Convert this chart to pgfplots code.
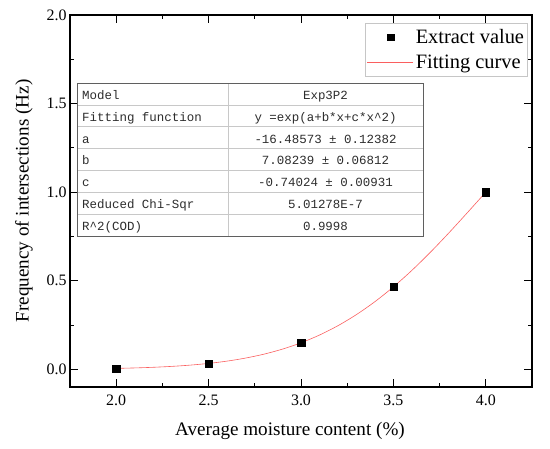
\documentclass[border=0pt]{standalone}
\usepackage{fontspec}
\setmainfont{Liberation Serif}
\newfontfamily\tablefont{Liberation Mono}
\usepackage{pgfplots}
\pgfplotsset{compat=1.18}
\definecolor{fitred}{RGB}{250,95,95}
\definecolor{tabtext}{RGB}{45,45,45}
\definecolor{tabouter}{RGB}{95,95,95}
\definecolor{tabinner}{RGB}{200,200,200}
\begin{document}
\begin{tikzpicture}
\useasboundingbox (-70bp,-62bp) rectangle (480bp,387bp);
\begin{axis}[
  at={(0,0)}, anchor=south west,
  scale only axis, width=462bp, height=372bp,
  xmin=1.75, xmax=4.25, ymin=-0.1, ymax=2.0,
  xtick={2,2.5,3,3.5,4}, ytick={0,0.5,1,1.5,2},
  minor tick num=1,
  tick align=inside,
  major tick length=8bp, minor tick length=4bp,
  every tick/.style={black, line width=0.8pt},
  axis line style={line width=1.1pt, black},
  /pgf/number format/fixed,
  /pgf/number format/fixed zerofill,
  /pgf/number format/precision=1,
  /pgf/number format/assume math mode=true,
  tick label style={font=\fontsize{16}{19}\selectfont},
  xticklabel style={yshift=-4bp},
  xlabel={Average moisture content (\%)},
  ylabel={Frequency of intersections (Hz)},
  label style={font=\fontsize{19.2}{23}\selectfont},
  xlabel style={at={(axis description cs:0.4762,0)}, anchor=base, yshift=-48bp},
  ylabel style={at={(axis description cs:-0.0801,0.5)}, anchor=south, inner sep=0pt},
  legend style={at={(rel axis cs:0.991,0.978)}, anchor=north east,
    draw=gray!45, line width=0.6pt, fill=white,
    font=\fontsize{20.5}{24}\selectfont,
    inner xsep=1.5bp, inner ysep=4bp, row sep=6bp,
    /tikz/every even column/.append style={column sep=6bp}},
  legend cell align=left,
]
\addplot[only marks, mark=square*, mark size=3.7bp, mark options={black, fill=black},
  legend image code/.code={\draw[only marks, mark=square*, mark size=3.4bp, mark options={black, fill=black}] plot coordinates {(23bp,0bp)};}]
  coordinates {(2.0,0.004) (2.5,0.032) (3.0,0.151) (3.5,0.465) (4.0,1.0)};
\addlegendentry{Extract value}
\addplot[fitred, line width=0.6pt, smooth,
  legend image code/.code={\draw[fitred, line width=0.6pt] (0bp,0bp) -- (46bp,0bp);}]
  coordinates {
  (2.0,0.00508) (2.1,0.00762) (2.2,0.01125) (2.3,0.01637) (2.4,0.02348)
  (2.5,0.03317) (2.6,0.04617) (2.7,0.06332) (2.8,0.08556) (2.9,0.11393)
  (3.0,0.14946) (3.1,0.19320) (3.2,0.24607) (3.3,0.30880) (3.4,0.38183)
  (3.5,0.46519) (3.6,0.55843) (3.7,0.66049) (3.8,0.76973) (3.9,0.88386)
  (4.0,1.00000)};
\addlegendentry{Fitting curve}
\end{axis}
% fit-result table
\fill[white] (7bp,151bp) rectangle (353bp,304bp);
\foreach \yy in {282.14,260.29,238.43,216.57,194.71,172.86}
  \draw[tabinner, line width=0.6pt] (7bp,\yy bp) -- (353bp,\yy bp);
\draw[tabinner, line width=0.6pt] (158bp,151bp) -- (158bp,304bp);
\draw[tabouter, line width=0.8pt] (7bp,151bp) rectangle (353bp,304bp);
\begin{scope}[every node/.style={inner sep=0pt, text=tabtext, font=\tablefont\fontsize{12.5}{15}\selectfont}]
\node[anchor=base west] at (12bp,287.6bp) {Model};
\node[anchor=base west] at (12bp,265.8bp) {Fitting function};
\node[anchor=base west] at (12bp,243.9bp) {a};
\node[anchor=base west] at (12bp,222.1bp) {b};
\node[anchor=base west] at (12bp,200.2bp) {c};
\node[anchor=base west] at (12bp,178.4bp) {Reduced Chi-Sqr};
\node[anchor=base west] at (12bp,156.5bp) {R\textasciicircum 2(COD)};
\node[anchor=base] at (255.5bp,287.6bp) {Exp3P2};
\node[anchor=base] at (255.5bp,265.8bp) {y =exp(a+b*x+c*x\textasciicircum 2)};
\node[anchor=base] at (255.5bp,243.9bp) {-16.48573 ± 0.12382};
\node[anchor=base] at (255.5bp,222.1bp) {7.08239 ± 0.06812};
\node[anchor=base] at (255.5bp,200.2bp) {-0.74024 ± 0.00931};
\node[anchor=base] at (255.5bp,178.4bp) {5.01278E-7};
\node[anchor=base] at (255.5bp,156.5bp) {0.9998};
\end{scope}
\end{tikzpicture}
\end{document}
